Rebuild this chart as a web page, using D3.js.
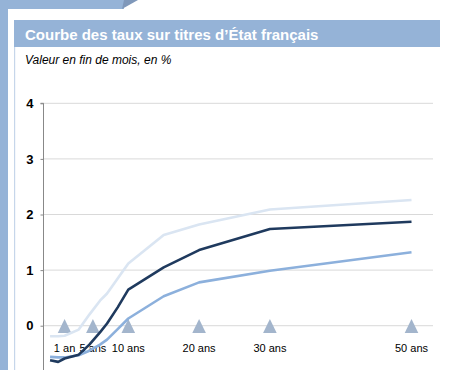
<!DOCTYPE html>
<html>
<head>
<meta charset="utf-8">
<script src="https://cdn.jsdelivr.net/npm/d3@7"></script>
<style>
  body { margin: 0; background: #fff; }
  svg { display: block; font-family: "Liberation Sans", Arial, sans-serif; }
</style>
</head>
<body>
<div id="chart"></div>
<script>
// maturities (years) where the curves are sampled
const maturites = [-1.05, 0.1, 1, 3, 4.5, 6, 7, 8.5, 10, 15, 20, 30, 50]
// three month-end curves, in %
const courbeHaute = [-0.19, -0.19, -0.18, -0.07, 0.2, 0.45, 0.58, 0.85, 1.12, 1.63, 1.82, 2.09, 2.26]
const courbeMoyenne = [-0.62, -0.65, -0.59, -0.52, -0.34, -0.12, 0.04, 0.33, 0.65, 1.05, 1.36, 1.74, 1.87]
const courbeBasse = [-0.56, -0.57, -0.57, -0.53, -0.45, -0.34, -0.25, -0.06, 0.13, 0.53, 0.78, 0.99, 1.32]
// x axis markers
const reperes = [1, 5, 10, 20, 30, 50]
const reperesLabels = ['1 an', '5 ans', '10 ans', '20 ans', '30 ans', '50 ans']
const yTicks = [0, 1, 2, 3, 4]

const width = 449, height = 370

const svg = d3.select('#chart').append('svg')
  .attr('width', width)
  .attr('height', height)

// frame decoration
svg.append('rect').attr('x', 0).attr('y', 0).attr('width', 124).attr('height', 9).attr('fill', '#95b3d7')
svg.append('polygon').attr('points', '122,9 138,0 124,0').attr('fill', '#7f98ba')
svg.append('rect').attr('x', 0).attr('y', 0).attr('width', 8).attr('height', height).attr('fill', '#95b3d7')
svg.append('rect').attr('x', 14).attr('y', 20).attr('width', 1.2).attr('height', height - 20).attr('fill', '#c6d6ea')

// title bar
svg.append('rect').attr('x', 14).attr('y', 20).attr('width', 426).attr('height', 27).attr('fill', '#95b3d7')
svg.append('text')
  .attr('x', 25).attr('y', 39.5)
  .attr('fill', '#fff')
  .attr('font-size', '15px')
  .attr('font-weight', 'bold')
  .text('Courbe des taux sur titres d’État français')
svg.append('text')
  .attr('x', 25).attr('y', 64)
  .attr('fill', '#000')
  .attr('font-size', '12px')
  .attr('font-style', 'italic')
  .text('Valeur en fin de mois, en %')

const x = d3.scaleLinear().domain([0, 50]).range([57.5, 411.5])
const y = d3.scaleLinear().domain([-0.8, 4]).range([370.2, 103.3])

// gridlines
svg.append('g').selectAll('line').data(yTicks).enter().append('line')
  .attr('x1', 43).attr('x2', 433)
  .attr('y1', d => y(d)).attr('y2', d => y(d))
  .attr('stroke', '#d9d9d9').attr('stroke-width', 1)

// y axis
const yAxis = svg.append('g')
  .attr('transform', 'translate(43.5,0)')
  .call(d3.axisLeft(y).tickValues(yTicks).tickSize(3).tickPadding(7).tickFormat(d3.format('d')))
yAxis.select('.domain').attr('d', 'M-3,' + y(4) + 'H0V' + height).attr('stroke', '#888')
yAxis.selectAll('.tick line').attr('stroke', '#888')
yAxis.selectAll('.tick text')
  .attr('font-size', '13px')
  .attr('font-weight', 'bold')
  .attr('font-family', '"Liberation Sans", Arial, sans-serif')
  .attr('fill', '#000')

// maturity markers
svg.append('g').selectAll('path').data(reperes).enter().append('path')
  .attr('d', d => 'M' + x(d) + ',319 L' + (x(d) + 6.8) + ',333 L' + (x(d) - 6.8) + ',333 Z')
  .attr('fill', '#a3b5cc')
svg.append('g').selectAll('text').data(reperes).enter().append('text')
  .attr('x', d => x(d))
  .attr('y', 351.5)
  .attr('text-anchor', 'middle')
  .attr('font-size', '11px')
  .attr('fill', '#000')
  .text((d, i) => reperesLabels[i])

// curves
const series = [
  { values: courbeHaute, color: '#dae5f2' },
  { values: courbeBasse, color: '#8cb0dc' },
  { values: courbeMoyenne, color: '#1f3a5e' }
]
const line = d3.line().x((d, i) => x(maturites[i])).y(d => y(d))

svg.append('g').selectAll('path').data(series).enter().append('path')
  .attr('d', d => line(d.values))
  .attr('fill', 'none')
  .attr('stroke', d => d.color)
  .attr('stroke-width', 2.6)
  .attr('stroke-linejoin', 'round')
</script>
</body>
</html>
